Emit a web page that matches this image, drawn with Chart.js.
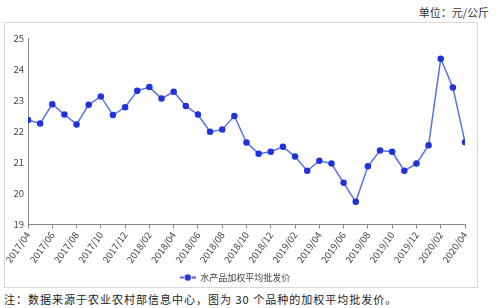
<!DOCTYPE html>
<html>
<head>
<meta charset="utf-8">
<script src="https://cdn.jsdelivr.net/npm/chart.js@4"></script>
<style>
  body { margin: 0; background: #fff; width: 499px; height: 308px; position: relative; overflow: hidden;
         font-family: "Noto Sans CJK SC", "Noto Sans", sans-serif; }
  #unit { position: absolute; right: 10px; top: 4px; font-size: 11px; color: #333; }
  #box { position: absolute; left: 4px; top: 22px; width: 474px; height: 266px; border: 1px solid #d9d9d9; box-sizing: border-box; }
  #note { position: absolute; left: 4px; top: 291px; font-size: 11px; color: #222; letter-spacing: 1px; }
</style>
</head>
<body>
<div id="unit">单位：元/公斤</div>
<div id="box"><canvas id="mycanvas"></canvas></div>
<div id="note">注：数据来源于农业农村部信息中心，图为 30 个品种的加权平均批发价。</div>
<script>
//data
var months = [
  "2017/04","2017/05","2017/06","2017/07","2017/08","2017/09","2017/10","2017/11","2017/12",
  "2018/01","2018/02","2018/03","2018/04","2018/05","2018/06","2018/07","2018/08","2018/09",
  "2018/10","2018/11","2018/12","2019/01","2019/02","2019/03","2019/04","2019/05","2019/06",
  "2019/07","2019/08","2019/09","2019/10","2019/11","2019/12","2020/01","2020/02","2020/03","2020/04"
];
var prices = [
  22.36, 22.25, 22.87, 22.54, 22.22, 22.85, 23.12, 22.52, 22.77,
  23.30, 23.42, 23.05, 23.27, 22.81, 22.54, 21.98, 22.06, 22.49,
  21.64, 21.28, 21.34, 21.50, 21.19, 20.73, 21.05, 20.96, 20.34,
  19.73, 20.87, 21.38, 21.34, 20.73, 20.96, 21.55, 24.33, 23.41, 21.65
];
var seriesName = "水产品加权平均批发价";

var points = [];
for (var i in prices) {
  points.push({ x: Number(i), y: prices[i] });
}

// legend marker: dash - dot - dash
var mark = document.createElement("canvas");
mark.width = 16; mark.height = 8;
var mc = mark.getContext("2d");
mc.strokeStyle = "#4a5fe0"; mc.lineWidth = 2;
mc.beginPath(); mc.moveTo(0, 4); mc.lineTo(4, 4); mc.moveTo(12, 4); mc.lineTo(16, 4); mc.stroke();
mc.fillStyle = "#1f33e0";
mc.beginPath(); mc.arc(8, 4, 3.2, 0, Math.PI * 2); mc.fill();

Chart.defaults.font.family = '"Noto Sans CJK SC", "Noto Sans", sans-serif';
Chart.defaults.color = "#444";

var ctx = document.getElementById("mycanvas");
var lineGraph = new Chart(ctx, {
  type: "line",
  data: {
    datasets: [{
      label: seriesName,
      data: points,
      borderColor: "#5b6fe2",
      borderWidth: 1.5,
      backgroundColor: "#1f33e0",
      pointBackgroundColor: "#1f33e0",
      pointBorderColor: "#1f33e0",
      pointRadius: 2.5,
      pointStyle: "circle",
      tension: 0
    }]
  },
  options: {
    responsive: true,
    maintainAspectRatio: false,
    animation: false,
    layout: { padding: { left: 0, right: 12, top: 15, bottom: -5 } },
    plugins: {
      legend: {
        position: "bottom",
        labels: {
          usePointStyle: true,
          pointStyle: mark,
          pointStyleWidth: 16,
          font: { size: 9 },
          color: "#444",
          padding: 3,
          generateLabels: function (chart) {
            return [{ text: seriesName, pointStyle: mark, datasetIndex: 0, fontColor: "#444" }];
          }
        }
      },
      tooltip: { enabled: false }
    },
    scales: {
      x: {
        type: "linear",
        min: 0,
        max: months.length - 1,
        offset: false,
        grid: { drawOnChartArea: false, drawTicks: true, tickLength: 4, color: "#888" },
        border: { color: "#888" },
        ticks: {
          stepSize: 2,
          autoSkip: false,
          maxRotation: 55,
          minRotation: 55,
          padding: 1,
          font: { size: 9.5 },
          callback: function (v) { return months[v]; }
        },
        afterFit: function (scale) {
          scale.paddingLeft = 0;
          scale.paddingRight = 0;
          scale.height += 4;
        }
      },
      y: {
        min: 19,
        max: 25,
        grid: { display: false, drawTicks: false },
        border: { color: "#888" },
        ticks: { stepSize: 1, font: { size: 9.5 }, padding: 4 },
        afterFit: function (scale) {
          scale.width = 23;
        }
      }
    }
  }
});
</script>
</body>
</html>
